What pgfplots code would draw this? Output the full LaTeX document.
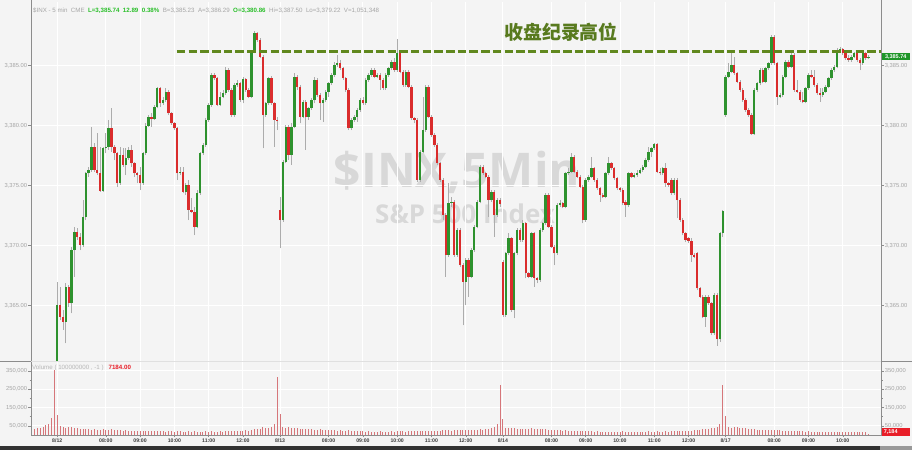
\documentclass[border=0pt]{standalone}
\usepackage{pgfplots}
\pgfplotsset{compat=1.18}
\usepackage{pgfplotstable}
\usepackage{fontspec}
\setmainfont{Liberation Sans}
\newfontfamily\cjkfont{Noto Sans CJK SC}
\newfontfamily\wmfont{Open Sans}

\definecolor{bg}{RGB}{244,244,244}
\definecolor{upc}{RGB}{46,146,46}
\definecolor{dnc}{RGB}{218,44,44}
\definecolor{wick}{RGB}{172,172,172}
\definecolor{volc}{RGB}{214,118,122}
\definecolor{lblgray}{RGB}{165,165,165}
\definecolor{framegray}{RGB}{140,140,140}
\definecolor{xlbl}{RGB}{60,60,60}
\definecolor{record}{RGB}{96,136,30}
\definecolor{recordtxt}{RGB}{88,122,30}
\definecolor{wmgray}{RGB}{216,216,216}
\definecolor{hdrgreen}{RGB}{40,190,40}
\definecolor{lastgreen}{RGB}{30,150,40}
\definecolor{lastred}{RGB}{232,30,40}
\definecolor{darkbar}{RGB}{50,50,50}

% 5-minute bars: index, open, high, low, close
\pgfplotstableread{
x o h l c
0 3355.46 3366.99 3355.18 3365.04
1 3365.04 3366.57 3363.79 3364.07
2 3364.07 3364.62 3362.96 3363.65
3 3363.65 3366.85 3361.85 3366.57
4 3366.57 3366.71 3364.90 3365.18
5 3365.18 3369.90 3364.35 3369.62
6 3369.62 3371.57 3367.40 3371.15
7 3371.15 3371.43 3370.46 3370.74
8 3370.74 3371.01 3369.62 3370.04
9 3370.04 3373.79 3369.90 3372.40
10 3372.40 3376.15 3372.12 3376.01
11 3376.01 3376.57 3375.73 3376.29
12 3376.29 3379.90 3376.15 3378.23
13 3378.23 3378.51 3376.15 3376.29
14 3376.29 3379.35 3375.87 3376.01
15 3376.01 3378.23 3374.49 3374.57
16 3374.57 3378.23 3374.49 3378.10
17 3378.10 3379.35 3377.68 3378.23
18 3378.23 3380.46 3377.96 3379.76
19 3379.76 3381.43 3377.82 3378.23
20 3378.23 3378.37 3377.12 3377.68
21 3377.68 3377.82 3374.90 3375.18
22 3375.18 3378.23 3375.04 3377.54
23 3377.54 3378.10 3376.57 3376.71
24 3376.71 3378.10 3375.87 3377.26
25 3377.26 3378.23 3377.12 3377.96
26 3377.96 3378.37 3376.57 3376.85
27 3376.85 3376.98 3375.73 3376.01
28 3376.01 3376.15 3375.18 3375.87
29 3375.87 3376.57 3374.62 3375.18
30 3375.18 3377.82 3375.04 3377.68
31 3377.68 3380.18 3377.54 3379.96
32 3379.96 3380.87 3379.90 3380.73
33 3380.73 3381.01 3379.90 3380.51
34 3380.51 3381.71 3380.46 3381.57
35 3381.57 3383.23 3381.43 3383.10
36 3383.10 3383.23 3381.57 3381.85
37 3381.85 3382.40 3381.71 3382.12
38 3382.12 3383.10 3381.98 3382.82
39 3382.82 3382.96 3380.87 3381.01
40 3381.01 3381.15 3380.04 3380.18
41 3380.18 3380.32 3379.62 3379.76
42 3379.76 3379.90 3375.46 3376.01
43 3376.01 3376.57 3375.87 3376.15
44 3376.15 3376.57 3374.35 3374.49
45 3374.49 3375.18 3374.21 3375.04
46 3375.04 3375.46 3372.12 3372.96
47 3372.96 3373.93 3372.68 3372.82
48 3372.82 3373.23 3370.87 3371.57
49 3371.57 3374.62 3371.43 3374.35
50 3374.35 3377.82 3374.21 3377.68
51 3377.68 3378.51 3377.54 3378.37
52 3378.37 3380.60 3378.23 3380.46
53 3380.46 3381.85 3380.32 3381.71
54 3381.71 3384.35 3381.57 3384.21
55 3384.21 3384.35 3383.79 3383.93
56 3383.93 3384.07 3381.62 3381.71
57 3381.71 3382.82 3381.62 3382.40
58 3382.40 3382.96 3382.26 3382.68
59 3382.68 3384.90 3382.54 3384.62
60 3384.62 3384.76 3382.82 3382.96
61 3382.96 3383.10 3380.73 3380.87
62 3380.87 3383.51 3380.73 3383.37
63 3383.37 3383.79 3383.23 3383.51
64 3383.51 3383.65 3381.98 3382.12
65 3382.12 3384.07 3381.85 3383.85
66 3383.85 3383.93 3382.82 3382.96
67 3382.96 3383.10 3382.26 3382.40
68 3382.40 3386.29 3382.26 3386.15
69 3386.15 3387.89 3386.01 3387.68
70 3387.68 3387.82 3386.98 3387.12
71 3387.12 3387.26 3385.60 3385.74
72 3385.74 3385.87 3378.10 3380.87
73 3380.87 3381.98 3380.73 3381.85
74 3381.85 3384.07 3381.71 3383.93
75 3383.93 3384.12 3381.71 3381.85
76 3381.85 3381.98 3378.23 3380.46
77 3380.46 3380.73 3379.62 3380.35
78 3372.96 3374.07 3369.76 3372.12
79 3372.12 3377.12 3371.99 3376.98
80 3376.98 3380.04 3376.85 3379.90
81 3379.90 3380.04 3377.12 3377.54
82 3377.54 3380.18 3376.71 3379.90
83 3379.90 3384.35 3379.76 3384.07
84 3384.07 3384.21 3382.96 3383.23
85 3383.23 3383.37 3380.18 3380.73
86 3380.73 3382.12 3380.60 3381.98
87 3381.98 3382.12 3377.96 3380.73
88 3380.73 3381.57 3380.46 3381.43
89 3381.43 3382.26 3381.29 3382.12
90 3382.12 3384.07 3381.85 3383.79
91 3383.79 3383.93 3382.40 3382.54
92 3382.54 3382.68 3380.46 3381.85
93 3381.85 3382.26 3380.32 3382.12
94 3382.12 3382.96 3381.98 3382.82
95 3382.82 3383.65 3382.40 3383.51
96 3383.51 3384.35 3383.37 3384.21
97 3384.21 3385.32 3384.07 3385.04
98 3385.04 3385.87 3384.90 3385.18
99 3385.18 3385.46 3384.62 3384.76
100 3384.76 3384.90 3383.79 3383.93
101 3383.93 3384.07 3382.82 3382.96
102 3382.96 3383.10 3379.62 3379.76
103 3379.76 3380.60 3379.62 3380.46
104 3380.46 3380.87 3380.32 3380.73
105 3380.73 3381.43 3380.32 3381.29
106 3381.29 3382.26 3381.15 3382.12
107 3382.12 3382.40 3381.71 3381.85
108 3381.85 3383.93 3381.71 3383.79
109 3383.79 3384.35 3383.65 3384.21
110 3384.21 3384.76 3384.07 3384.62
111 3384.62 3384.76 3383.93 3384.07
112 3384.07 3384.35 3383.93 3384.21
113 3384.21 3384.35 3382.96 3383.79
114 3383.79 3383.93 3382.96 3383.10
115 3383.10 3384.35 3382.96 3384.21
116 3384.21 3384.90 3384.07 3384.76
117 3384.76 3385.46 3384.62 3385.32
118 3385.32 3385.60 3384.48 3384.62
119 3384.62 3387.24 3384.48 3386.01
120 3386.01 3386.15 3384.35 3384.48
121 3384.48 3384.62 3383.23 3383.37
122 3383.37 3384.62 3383.23 3384.48
123 3384.48 3384.62 3383.10 3383.23
124 3383.23 3383.37 3380.46 3380.60
125 3380.60 3380.73 3380.18 3380.46
126 3380.46 3380.60 3375.32 3375.46
127 3375.46 3377.96 3375.32 3377.82
128 3377.82 3382.40 3377.68 3379.62
129 3379.62 3383.37 3379.49 3383.23
130 3383.23 3383.37 3380.60 3380.73
131 3380.73 3380.87 3379.07 3379.21
132 3379.21 3379.35 3378.23 3378.37
133 3378.37 3378.51 3376.71 3376.85
134 3376.85 3376.98 3375.32 3375.46
135 3375.46 3375.60 3372.12 3372.54
136 3372.54 3372.68 3367.40 3369.21
137 3369.21 3375.18 3369.07 3373.51
138 3373.51 3374.07 3373.23 3373.65
139 3373.65 3373.79 3369.07 3369.21
140 3369.21 3371.43 3369.07 3371.29
141 3371.29 3371.43 3368.23 3368.37
142 3368.37 3368.51 3363.35 3366.99
143 3366.99 3368.93 3365.04 3368.79
144 3368.79 3368.93 3365.74 3367.40
145 3367.40 3369.76 3367.26 3369.62
146 3369.62 3371.71 3369.49 3371.57
147 3371.57 3373.79 3371.43 3373.65
148 3373.65 3376.71 3373.51 3376.57
149 3376.57 3376.71 3375.87 3376.01
150 3376.01 3376.15 3375.60 3375.73
151 3375.73 3375.87 3372.40 3373.79
152 3373.79 3374.62 3373.65 3374.49
153 3374.49 3374.62 3370.74 3372.54
154 3372.54 3373.93 3372.40 3373.79
155 3373.79 3373.93 3373.23 3373.43
156 3368.65 3368.79 3364.07 3364.21
157 3364.21 3369.49 3364.07 3369.35
158 3369.35 3371.01 3369.21 3370.60
159 3370.60 3370.74 3364.49 3364.62
160 3364.62 3369.49 3363.93 3369.35
161 3369.35 3371.43 3369.21 3371.29
162 3371.29 3371.43 3370.32 3370.46
163 3370.46 3372.12 3370.32 3371.85
164 3371.85 3371.99 3367.26 3367.68
165 3367.68 3367.82 3367.26 3367.40
166 3367.40 3371.15 3367.26 3371.01
167 3371.01 3371.15 3366.57 3367.26
168 3367.26 3367.40 3366.85 3367.12
169 3367.12 3371.43 3366.99 3371.29
170 3371.29 3371.99 3371.15 3371.85
171 3371.85 3374.35 3371.71 3374.21
172 3374.21 3374.35 3371.43 3371.57
173 3371.57 3371.71 3369.76 3369.90
174 3369.90 3370.04 3368.37 3369.35
175 3369.35 3373.51 3369.21 3373.37
176 3373.37 3373.79 3373.23 3373.51
177 3373.51 3373.65 3373.10 3373.23
178 3373.23 3376.15 3373.10 3376.01
179 3376.01 3376.43 3375.87 3376.15
180 3376.15 3377.68 3376.01 3377.40
181 3377.40 3377.54 3376.01 3376.15
182 3376.15 3376.29 3375.60 3375.73
183 3375.73 3375.87 3374.76 3374.90
184 3374.90 3375.04 3371.85 3372.12
185 3372.12 3375.60 3371.99 3375.46
186 3375.46 3375.87 3375.32 3375.73
187 3375.73 3377.40 3375.60 3376.43
188 3376.43 3376.57 3375.32 3375.46
189 3375.46 3375.60 3374.62 3374.76
190 3374.76 3374.90 3373.65 3374.21
191 3374.21 3374.35 3373.93 3374.07
192 3374.07 3376.15 3373.93 3376.01
193 3376.01 3377.40 3375.87 3376.85
194 3376.85 3376.98 3376.29 3376.43
195 3376.43 3376.57 3375.46 3375.60
196 3375.60 3375.73 3374.62 3374.76
197 3374.76 3374.90 3374.49 3374.62
198 3374.62 3374.76 3373.37 3373.51
199 3373.65 3373.79 3372.40 3373.37
200 3373.37 3376.15 3373.23 3376.01
201 3376.01 3376.15 3375.60 3375.73
202 3375.73 3376.01 3375.60 3375.87
203 3375.87 3376.29 3375.73 3376.07
204 3376.07 3376.43 3375.96 3376.29
205 3376.29 3376.71 3376.15 3376.57
206 3376.57 3377.26 3376.43 3377.12
207 3377.12 3378.23 3376.98 3377.82
208 3377.82 3378.23 3377.40 3378.10
209 3378.10 3378.51 3377.96 3378.46
210 3378.46 3378.51 3376.01 3376.15
211 3376.15 3376.43 3375.87 3376.01
212 3376.01 3376.57 3375.87 3376.43
213 3376.43 3376.85 3374.90 3375.18
214 3375.18 3375.32 3374.90 3375.04
215 3375.46 3375.60 3374.21 3374.35
216 3374.35 3375.60 3374.21 3375.46
217 3375.46 3375.60 3372.26 3373.79
218 3373.79 3373.93 3371.99 3372.12
219 3372.12 3372.26 3370.87 3371.01
220 3371.01 3371.15 3370.32 3370.46
221 3370.60 3370.74 3370.18 3370.40
222 3370.40 3370.60 3368.65 3369.21
223 3369.21 3369.35 3368.93 3369.07
224 3369.35 3369.49 3366.29 3366.43
225 3366.43 3366.57 3365.60 3365.74
226 3365.74 3365.87 3363.93 3364.07
227 3364.07 3365.87 3363.23 3365.74
228 3365.74 3365.87 3365.04 3365.18
229 3365.18 3365.32 3362.54 3362.68
230 3362.68 3366.01 3362.54 3365.87
231 3365.87 3366.01 3361.64 3362.18
232 3362.18 3371.15 3361.99 3371.01
233 3371.01 3372.96 3370.74 3372.85
234 3380.86 3384.21 3380.73 3384.07
235 3384.07 3385.18 3383.93 3384.48
236 3384.48 3386.15 3384.35 3385.04
237 3385.04 3385.74 3384.21 3384.35
238 3384.35 3384.48 3383.51 3383.65
239 3383.65 3383.79 3382.82 3382.96
240 3382.96 3383.10 3381.98 3382.12
241 3382.12 3382.26 3381.15 3381.29
242 3381.29 3381.43 3380.73 3380.87
243 3380.87 3381.01 3379.22 3379.26
244 3379.26 3383.10 3379.22 3382.96
245 3382.96 3383.65 3382.82 3383.51
246 3383.51 3384.76 3383.37 3384.62
247 3384.62 3384.76 3383.51 3383.65
248 3383.65 3384.90 3383.51 3384.76
249 3384.76 3385.32 3384.62 3385.18
250 3385.18 3387.50 3385.04 3387.40
251 3387.40 3387.50 3385.04 3385.18
252 3385.18 3385.32 3381.71 3382.40
253 3382.40 3382.68 3382.26 3382.54
254 3382.54 3384.21 3382.40 3384.07
255 3384.07 3385.46 3383.93 3385.32
256 3385.32 3385.46 3384.76 3384.90
257 3384.90 3386.01 3384.76 3385.87
258 3385.87 3386.01 3382.82 3382.96
259 3382.96 3383.79 3382.68 3382.82
260 3382.82 3382.96 3381.98 3382.12
261 3382.12 3382.82 3381.85 3381.98
262 3381.98 3383.23 3381.85 3383.10
263 3383.10 3384.35 3382.96 3384.21
264 3384.21 3384.62 3383.93 3384.07
265 3384.07 3384.62 3383.23 3383.37
266 3383.37 3383.51 3382.54 3382.68
267 3382.68 3383.10 3381.98 3382.54
268 3382.54 3383.10 3382.40 3382.82
269 3382.82 3383.37 3382.68 3383.23
270 3383.23 3384.07 3383.10 3383.93
271 3383.93 3384.76 3383.79 3384.62
272 3384.62 3385.04 3384.48 3384.90
273 3384.90 3386.43 3384.76 3386.29
274 3386.29 3386.57 3386.15 3386.35
275 3386.35 3386.43 3385.87 3386.01
276 3386.01 3386.15 3385.46 3385.60
277 3385.60 3385.87 3385.32 3385.46
278 3385.46 3385.87 3385.32 3385.74
279 3385.74 3386.15 3385.60 3386.01
280 3386.01 3386.15 3385.32 3385.46
281 3385.46 3385.60 3384.62 3385.18
282 3385.18 3386.15 3385.04 3386.01
283 3386.01 3386.15 3385.46 3385.60
284 3385.60 3385.87 3385.51 3385.74
}\candles

% volume per bar
\pgfplotstableread{
x v
-9 36000
-8 34000
-7 38000
-6 40000
-5 44000
-4 52000
-3 62000
-2 95000
-1 352000
0 110000
1 50000
2 42000
3 40000
4 44000
5 42000
6 40000
7 37000
8 34000
9 32000
10 33000
11 31000
12 29000
13 30000
14 28000
15 29000
16 31000
17 29000
18 27000
19 30000
20 26000
21 28000
22 25000
23 24000
24 25000
25 23000
26 24000
27 22000
28 23000
29 24000
30 22000
31 21000
32 22000
33 20000
34 21000
35 22000
36 20000
37 21000
38 19000
39 20000
40 21000
41 19000
42 22000
43 20000
44 19000
45 18000
46 20000
47 19000
48 21000
49 18000
50 19000
51 18000
52 20000
53 19000
54 21000
55 18000
56 19000
57 20000
58 19000
59 21000
60 20000
61 22000
62 21000
63 23000
64 22000
65 24000
66 25000
67 24000
68 28000
69 32000
70 30000
71 35000
72 42000
73 36000
74 38000
75 45000
76 58000
77 318000
78 112000
79 45000
80 40000
81 42000
82 38000
83 40000
84 36000
85 35000
86 33000
87 32000
88 30000
89 31000
90 29000
91 28000
92 30000
93 27000
94 26000
95 27000
96 25000
97 26000
98 24000
99 25000
100 23000
101 24000
102 25000
103 22000
104 21000
105 22000
106 20000
107 21000
108 19000
109 20000
110 19000
111 18000
112 19000
113 20000
114 18000
115 19000
116 18000
117 20000
118 19000
119 22000
120 21000
121 20000
122 19000
123 21000
124 22000
125 20000
126 24000
127 23000
128 21000
129 22000
130 20000
131 21000
132 22000
133 23000
134 24000
135 26000
136 28000
137 25000
138 24000
139 27000
140 25000
141 26000
142 28000
143 27000
144 26000
145 28000
146 27000
147 29000
148 30000
149 28000
150 30000
151 32000
152 36000
153 42000
154 62000
155 272000
156 85000
157 40000
158 38000
159 36000
160 37000
161 33000
162 34000
163 32000
164 35000
165 34000
166 36000
167 35000
168 33000
169 34000
170 31000
171 30000
172 29000
173 27000
174 28000
175 26000
176 25000
177 24000
178 25000
179 23000
180 24000
181 22000
182 23000
183 21000
184 22000
185 21000
186 20000
187 21000
188 19000
189 20000
190 19000
191 18000
192 19000
193 18000
194 17000
195 18000
196 19000
197 18000
198 20000
199 19000
200 18000
201 17000
202 18000
203 17000
204 18000
205 19000
206 18000
207 20000
208 19000
209 18000
210 20000
211 19000
212 18000
213 20000
214 19000
215 21000
216 20000
217 22000
218 21000
219 23000
220 22000
221 24000
222 23000
223 25000
224 26000
225 28000
226 30000
227 32000
228 31000
229 36000
230 40000
231 45000
232 58000
233 272000
234 105000
235 42000
236 40000
237 41000
238 42000
239 40000
240 38000
241 36000
242 33000
243 32000
244 30000
245 28000
246 27000
247 28000
248 26000
249 25000
250 27000
251 26000
252 28000
253 25000
254 24000
255 23000
256 22000
257 23000
258 22000
259 21000
260 20000
261 21000
262 19000
263 20000
264 19000
265 18000
266 19000
267 18000
268 17000
269 18000
270 17000
271 18000
272 17000
273 19000
274 18000
275 17000
276 16000
277 17000
278 16000
279 15000
280 16000
281 15000
282 16000
283 15000
284 7184
}\volumes

\pgfplotsset{
  panel/.style={
    scale only axis, width=850bp, anchor=south west,
    xmin=-9.2, xmax=288.4,
    axis line style={draw=none},
    tick align=outside,
    major tick length=2.5bp, minor tick length=1.5bp,
    ytick style={draw=framegray, line width=0.4bp},
    xtick style={draw=none},
    /pgf/number format/assume math mode=true,
    yticklabel style={font=\fontsize{5.8}{6}\selectfont, text=lblgray, inner sep=1.2bp},
  },
  pricey/.style={
    ymin=3360.375, ymax=3390.29,
    ytick={3365,3370,3375,3380,3385},
    yticklabel style={/pgf/number format/.cd, fixed, fixed zerofill, precision=2, 1000 sep={,}},
  },
  voly/.style={
    ymin=0, ymax=403000, scaled y ticks=false,
    ytick={50000,150000,250000,350000}, minor ytick={100000,200000,300000},
    yticklabel style={/pgf/number format/.cd, fixed, precision=0, 1000 sep={,}},
  },
  hours/.style={
    xtick={0,17,29,41,53,65,78,95,107,119,131,143,156,173,185,197,209,221,234,251,263,275},
  },
  % a vertical stroke per bar, drawn as a one-sided error bar
  candle/.style n args={2}{draw=none, mark=none, forget plot,
    error bars/y dir=plus, error bars/y explicit, error bars/error mark=none,
    error bars/error bar style={draw=#1, line width=#2}},
}

\begin{document}
\begin{tikzpicture}[x=1bp,y=1bp]
\useasboundingbox (0,0) rectangle (912,450);
\fill[bg] (0,0) rectangle (912,450);

% watermark behind the candles
\node[anchor=base, text=wmgray, font=\wmfont\bfseries\fontsize{48}{48}\selectfont, inner sep=0]
  at (457,262) {\$INX,5Min};
\node[anchor=base, text=wmgray, font=\wmfont\bfseries\fontsize{26}{26}\selectfont, inner sep=0]
  at (465,226) {S\&P 500 Index};

% price panel
\begin{axis}[panel, pricey, hours, at={(31bp,89bp)}, height=359bp,
  xticklabels={}, ytick pos=left,
  grid=major, major grid style={draw=white, line width=0.9bp}]
  % wicks
  \addplot[candle={wick}{0.7bp}]
    table[x=x, y=l, y error plus expr={\thisrow{h}-\thisrow{l}}] {\candles};
  % rising bodies
  \addplot[candle={upc}{2.4bp}, restrict y to domain=3000:4000]
    table[x=x, y expr={\thisrow{c}>\thisrow{o} ? \thisrow{o} : 0},
          y error plus expr={\thisrow{c}-\thisrow{o}}] {\candles};
  % falling bodies
  \addplot[candle={dnc}{2.4bp}, restrict y to domain=3000:4000]
    table[x=x, y expr={\thisrow{c}>\thisrow{o} ? 0 : \thisrow{c}},
          y error plus expr={\thisrow{o}-\thisrow{c}}] {\candles};
  % record close level
  \addplot[record, line width=3.6bp, dash pattern=on 8.5bp off 3.2bp, forget plot]
    coordinates {(41.9,3386.15) (288.4,3386.15)};
  \coordinate (plast) at (axis cs:288.4,3385.74);
\end{axis}
\begin{axis}[panel, pricey, at={(31bp,89bp)}, height=359bp,
  xtick=\empty, ytick pos=right, yticklabel pos=right]
\end{axis}

% volume panel
\begin{axis}[panel, voly, hours, at={(31bp,15bp)}, height=74bp,
  xticklabels={8/12,08:00,09:00,10:00,11:00,12:00,8/13,08:00,09:00,10:00,11:00,12:00,8/14,08:00,09:00,10:00,11:00,12:00,8/17,08:00,09:00,10:00},
  xtick pos=bottom, xtick style={draw=framegray, line width=0.4bp},
  xticklabel style={font=\bfseries\fontsize{5.2}{6}\selectfont, text=xlbl, inner sep=0pt, yshift=-1.2bp},
  ytick pos=left,
  grid=major, major grid style={draw=white, line width=0.9bp}]
  \addplot[ycomb, draw=volc, line width=0.9bp, mark=none] table[x=x, y=v] {\volumes};
  \coordinate (vlast) at (axis cs:288.4,7184);
\end{axis}
\begin{axis}[panel, voly, at={(31bp,15bp)}, height=74bp,
  xtick=\empty, ytick pos=right, yticklabel pos=right]
\end{axis}

% frame
\draw[framegray, line width=0.6bp] (31,14) -- (31,450);
\draw[framegray, line width=0.6bp] (881,14) -- (881,450);
\draw[framegray, line width=0.6bp] (31,14.6) -- (881,14.6);
\draw[framegray, line width=0.6bp] (0,89) -- (31,89);
\draw[framegray, line width=0.6bp] (881,89) -- (912,89);
\draw[black!12, line width=0.5bp] (31,89) -- (881,89);

% header line
\node[anchor=base west, inner sep=0, text=lblgray, font=\fontsize{6.2}{7}\selectfont]
  at (33,437.5) {\$INX - 5 min\ \ CME\ \ \textcolor{hdrgreen}{\bfseries L=3,385.74\ \ 12.89\ \ 0.38\%}\ \ B=3,385.23\ \ A=3,386.29\ \ \textcolor{hdrgreen}{\bfseries O=3,380.86}\ \ Hi=3,387.50\ \ Lo=3,379.22\ \ V=1,051,348};

% volume caption
\node[anchor=base west, inner sep=0, text=lblgray!80, font=\fontsize{6.2}{7}\selectfont]
  at (32,80.5) {Volume ( 100000000 , -1 )\hspace{5bp}\textcolor{lastred}{\bfseries 7184.00}};

% annotation of the record close
\node[text=recordtxt, font=\cjkfont\bfseries\fontsize{19}{20}\selectfont, inner sep=0]
  at (561,418) {收盘纪录高位};

% last value tags
\node[anchor=west, fill=lastgreen, text=white, font=\bfseries\fontsize{5.5}{6}\selectfont,
  inner xsep=1.3bp, inner ysep=1.4bp, minimum width=28bp] at ([xshift=0.5bp]plast) {3,385.74};
\node[anchor=west, fill=lastred, text=white, font=\bfseries\fontsize{5.5}{6}\selectfont,
  inner xsep=1.3bp, inner ysep=1.6bp, minimum width=28bp, align=left] at ([xshift=0.5bp,yshift=2bp]vlast) {7,184\hspace{10bp}};

% scroll strip
\fill[darkbar] (0,0) rectangle (880,4);
\fill[black!40] (880,0) rectangle (912,4);
\end{tikzpicture}
\end{document}
